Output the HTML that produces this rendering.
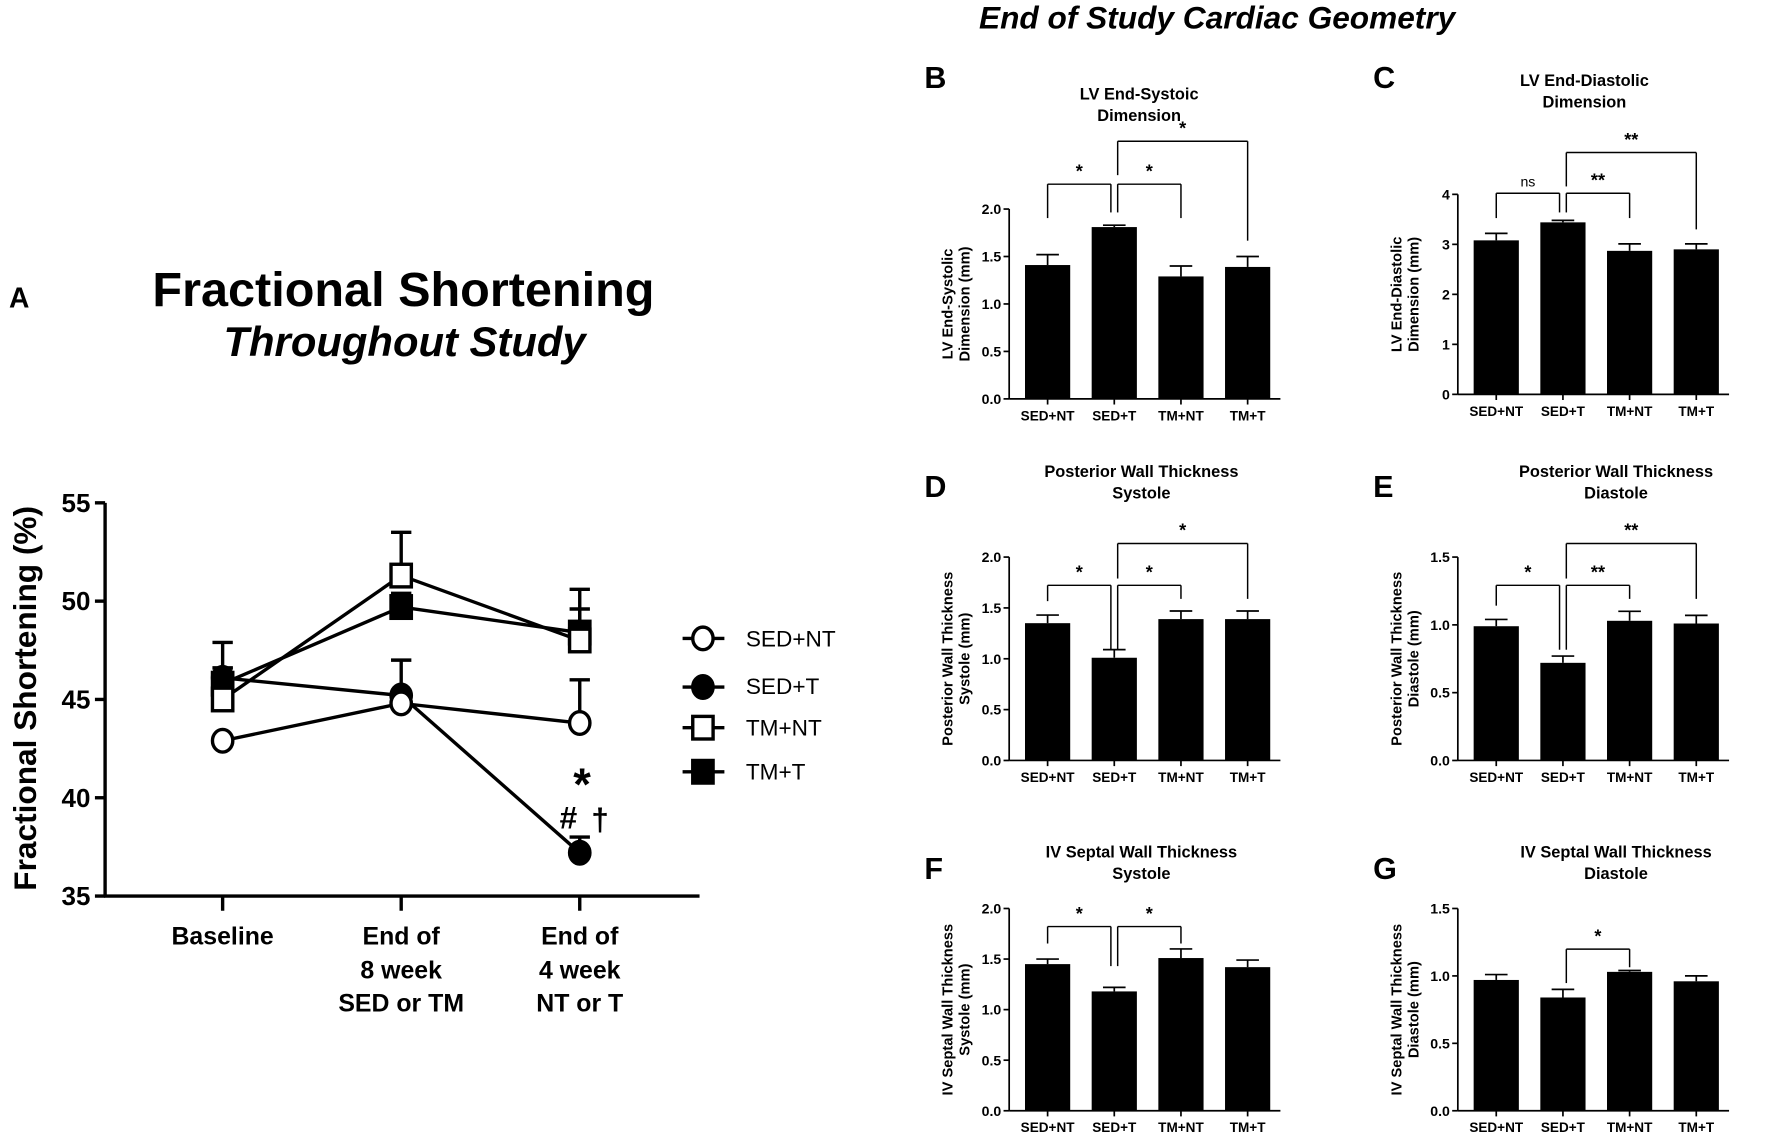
<!DOCTYPE html>
<html><head><meta charset="utf-8"><style>
html,body{margin:0;padding:0;background:#fff;}
svg{display:block;}
text{font-family:"Liberation Sans",Arial,sans-serif;fill:#000;}
</style></head><body>
<svg id="s" width="1772" height="1139" viewBox="0 0 1568 1008" preserveAspectRatio="none" xmlns="http://www.w3.org/2000/svg">
<rect width="1568" height="1008" fill="#fff"/>
<text x="1077" y="25" font-size="28" font-weight="bold" font-style="italic" text-anchor="middle">End of Study Cardiac Geometry</text>
<text x="8" y="272" font-size="25" font-weight="bold">A</text>
<text x="357" y="271" font-size="43" font-weight="bold" text-anchor="middle">Fractional Shortening</text>
<text x="358" y="315" font-size="37" font-weight="bold" font-style="italic" text-anchor="middle">Throughout Study</text>
<text transform="translate(32,618) rotate(-90)" font-size="28" font-weight="bold" text-anchor="middle">Fractional Shortening (%)</text>
<g font-size="22" font-weight="bold" text-anchor="middle">
<text x="197" y="836">Baseline</text>
<text x="355" y="836">End of</text><text x="355" y="866">8 week</text><text x="355" y="895">SED or TM</text>
<text x="513" y="836">End of</text><text x="513" y="866">4 week</text><text x="513" y="895">NT or T</text>
</g>
<g font-size="20">
<text x="660" y="572">SED+NT</text><text x="660" y="614">SED+T</text><text x="660" y="651">TM+NT</text><text x="660" y="690">TM+T</text>
</g>
<text x="515" y="708" font-size="40" font-weight="bold" text-anchor="middle">*</text>
<text x="503" y="733" font-size="28" font-weight="bold" text-anchor="middle">#</text>
<text x="531" y="735" font-size="28" font-weight="bold" text-anchor="middle">†</text>
<g id="g"></g>
</svg>
<script>
var g=document.getElementById('g'),h='';
function L(x1,y1,x2,y2,w){h+='<line x1="'+x1+'" y1="'+y1+'" x2="'+x2+'" y2="'+y2+'" stroke="#000" stroke-width="'+(w||2)+'"/>';}
function T(x,y,s,sz,a,b){h+='<text x="'+x+'" y="'+y+'" font-size="'+sz+'" text-anchor="'+(a||'middle')+'"'+(b?' font-weight="bold"':'')+'>'+s+'</text>';}
var Y=function(v){return 793-(v-35)*17.4;};
L(93,445,93,794,3);L(92,793,619,793,3);
[35,40,45,50,55].forEach(function(v){L(84,Y(v),93,Y(v),3);T(80,Y(v)+8,v,23,'end',1);});
var X=[197,355,513];X.forEach(function(x){L(x,793,x,806,3);});
var S=[
 {v:[42.9,44.8,43.8],e:[null,null,46.0],m:'oc'},
 {v:[46.1,45.2,37.2],e:[47.9,47.0,38.0],m:'fc'},
 {v:[45.0,51.3,48.0],e:[46.6,53.5,50.6],m:'os'},
 {v:[45.8,49.7,48.4],e:[46.6,50.4,49.6],m:'fs'}];
S.forEach(function(s){
 for(var i=0;i<2;i++)L(X[i],Y(s.v[i]),X[i+1],Y(s.v[i+1]),3);
 s.e.forEach(function(e,i){if(e){L(X[i],Y(s.v[i]),X[i],Y(e),3);L(X[i]-9,Y(e),X[i]+9,Y(e),3);}});
});
function M(t,x,y){
 if(t[1]=='c')h+='<ellipse cx="'+x+'" cy="'+y+'" rx="9" ry="10" fill="'+(t[0]=='o'?'#fff':'#000')+'" stroke="#000" stroke-width="3"/>';
 else h+='<rect x="'+(x-9)+'" y="'+(y-10)+'" width="18" height="20" fill="'+(t[0]=='o'?'#fff':'#000')+'" stroke="#000" stroke-width="3"/>';
}
[1,3,2,0].forEach(function(k){var s=S[k];for(var i=0;i<3;i++)M(s.m,X[i],Y(s.v[i]));});
var ly=[565,608,644,683];
S.forEach(function(s,i){L(604,ly[i],641,ly[i],3);M(s.m,622,ly[i]);});
var labs=['SED+NT','SED+T','TM+NT','TM+T'];
function P(o){
 var ax=o.ax,y0=o.y0,yt=o.yt,max=o.max;
 var sc=(y0-yt)/max,yy=function(v){return y0-v*sc;};
 var cs=[ax+34,ax+93,ax+152,ax+211];
 T(o.lx,o.ly,o.L,27,'start',1);
 T(o.tx,o.ty,o.t1,14.5,'middle',1);T(o.tx,o.ty+19,o.t2,14.5,'middle',1);
 h+='<text transform="translate('+(ax-50)+','+((y0+yt)/2)+') rotate(-90)" font-size="13" font-weight="bold" text-anchor="middle">'+o.y1+'</text>';
 h+='<text transform="translate('+(ax-35)+','+((y0+yt)/2)+') rotate(-90)" font-size="13" font-weight="bold" text-anchor="middle">'+o.y2+'</text>';
 o.v.forEach(function(v,i){var c=cs[i];h+='<rect x="'+(c-20)+'" y="'+yy(v)+'" width="40" height="'+(y0-yy(v))+'" fill="#000"/>';
  L(c,yy(v),c,yy(o.e[i]),1.5);L(c-10,yy(o.e[i]),c+10,yy(o.e[i]),1.5);
  L(c,y0,c,y0+5,1.5);T(c,y0+19,labs[i],12,'middle',1);});
 L(ax,yt,ax,y0,1.5);L(ax,y0,ax+240,y0,1.5);
 for(var t=0;t<=o.n;t++){var v=t*o.step;L(ax-5,yy(v),ax,yy(v),1.5);T(ax-7,yy(v)+4.5,v.toFixed(o.dec),12.5,'end',1);}
 o.br.forEach(function(b){
  var a=cs[b[0]],c=cs[b[1]],y=b[2];
  var ax1=a+(b[0]==1?(b[1]>1?3:0):0), cx1=c-(b[1]==1?3:0);
  L(ax1,b[3],ax1,y,1.3);L(ax1,y,cx1,y,1.3);L(cx1,y,cx1,b[4],1.3);
  T((ax1+cx1)/2,y-6,b[5],b[5]=='ns'?12.5:16,'middle',b[5]!='ns');
 });
}
P({ax:893,y0:353,yt:185,max:2,n:4,step:0.5,dec:1,L:'B',lx:818,ly:78,tx:1008,ty:88,t1:'LV End-Systoic',t2:'Dimension',y1:'LV End-Systolic',y2:'Dimension (mm)',
 v:[1.41,1.81,1.29,1.39],e:[1.52,1.83,1.40,1.50],
 br:[[0,1,163,193,188,'*'],[1,2,163,188,193,'*'],[1,3,125,155,213,'*']]});
P({ax:1290,y0:349,yt:172,max:4,n:4,step:1,dec:0,L:'C',lx:1215,ly:78,tx:1402,ty:76,t1:'LV End-Diastolic',t2:'Dimension',y1:'LV End-Diastolic',y2:'Dimension (mm)',
 v:[3.08,3.44,2.87,2.90],e:[3.22,3.48,3.01,3.01],
 br:[[0,1,171,193,188,'ns'],[1,2,171,188,193,'**'],[1,3,135,165,203,'**']]});
P({ax:893,y0:673,yt:493,max:2,n:4,step:0.5,dec:1,L:'D',lx:818,ly:440,tx:1010,ty:422,t1:'Posterior Wall Thickness',t2:'Systole',y1:'Posterior Wall Thickness',y2:'Systole (mm)',
 v:[1.35,1.01,1.39,1.39],e:[1.43,1.09,1.47,1.47],
 br:[[0,1,518,532,575,'*'],[1,2,518,575,530,'*'],[1,3,481,512,530,'*']]});
P({ax:1290,y0:673,yt:493,max:1.5,n:3,step:0.5,dec:1,L:'E',lx:1215,ly:440,tx:1430,ty:422,t1:'Posterior Wall Thickness',t2:'Diastole',y1:'Posterior Wall Thickness',y2:'Diastole (mm)',
 v:[0.99,0.72,1.03,1.01],e:[1.04,0.77,1.10,1.07],
 br:[[0,1,518,536,575,'*'],[1,2,518,575,530,'**'],[1,3,481,512,530,'**']]});
P({ax:893,y0:983,yt:804,max:2,n:4,step:0.5,dec:1,L:'F',lx:818,ly:778,tx:1010,ty:759,t1:'IV Septal Wall Thickness',t2:'Systole',y1:'IV Septal Wall Thickness',y2:'Systole (mm)',
 v:[1.45,1.18,1.51,1.42],e:[1.50,1.22,1.60,1.49],
 br:[[0,1,820,835,855,'*'],[1,2,820,855,835,'*']]});
P({ax:1290,y0:983,yt:804,max:1.5,n:3,step:0.5,dec:1,L:'G',lx:1215,ly:778,tx:1430,ty:759,t1:'IV Septal Wall Thickness',t2:'Diastole',y1:'IV Septal Wall Thickness',y2:'Diastole (mm)',
 v:[0.97,0.84,1.03,0.96],e:[1.01,0.90,1.04,1.00],
 br:[[1,2,840,870,856,'*']]});
g.innerHTML=h;
</script>
</body></html>
